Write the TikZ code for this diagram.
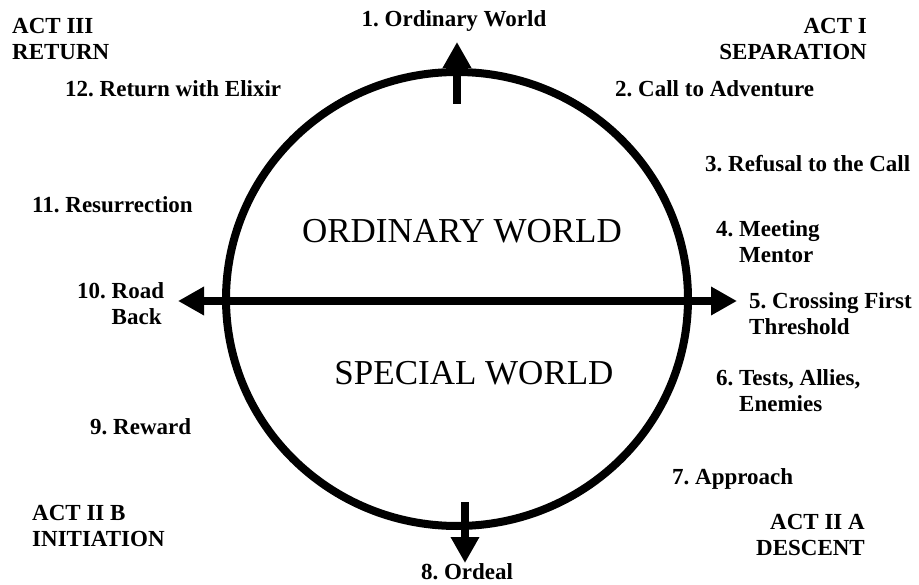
\documentclass[tikz,border=0pt]{standalone}
\usepackage{fontspec}
\setmainfont{Liberation Serif}[BoldFont={Liberation Serif Bold}]
\usetikzlibrary{arrows.meta,shapes.geometric}
\frenchspacing

% two-line labels, first baseline on the anchor
\newcommand{\hanglabel}[3]{\begin{tabular}[t]{@{}l@{\ }l@{}}#1 & #2\\ & #3\end{tabular}}
\newcommand{\twolines}[3]{\begin{tabular}[t]{@{}#1@{}}#2\\#3\end{tabular}}

\begin{document}
\begin{tikzpicture}[x=1pt, y=-1pt,
    >={Triangle[length=26pt,width=27pt]},
    stage/.style={inner sep=0pt, font=\bfseries\fontsize{23}{26}\selectfont},
    world/.style={inner sep=0pt, font=\fontsize{35}{40}\selectfont},
    bar/.style={line width=8pt}]
  \useasboundingbox (0,0) rectangle (919,585);

  \node (cycle) [draw, ellipse, line width=8pt, minimum width=462pt, minimum height=454pt] at (457,299) {};

  \node (ordinary) [world, anchor=base] at (462,243) {ORDINARY WORLD};
  \node (special) [world, anchor=base] at (474,385) {SPECIAL WORLD};

  \coordinate (north base) at (457,104);
  \coordinate (north tip) at (457,42);
  \coordinate (south base) at (465,502);
  \coordinate (south tip) at (465,563);
  \coordinate (west tip) at (178,301);
  \coordinate (east tip) at (737,301);

  \draw [bar, ->] (north base) -- (north tip);
  \draw [bar, ->] (south base) -- (south tip);
  \draw [bar, <->] (west tip) -- (east tip);

  \node (act1) [stage, anchor=base east] at (867,34) {\twolines{r}{ACT I}{SEPARATION}};
  \node (act2a) [stage, anchor=base east] at (865,529) {\twolines{r}{ACT II A}{DESCENT}};
  \node (act2b) [stage, anchor=base west] at (32,520) {\twolines{l}{ACT II B}{INITIATION}};
  \node (act3) [stage, anchor=base west] at (12,34) {\twolines{l}{ACT III}{RETURN}};

  \node (s1) [stage, anchor=base] at (454,27) {1. Ordinary World};
  \node (s2) [stage, anchor=base west] at (615,97) {2. Call to Adventure};
  \node (s3) [stage, anchor=base west] at (705,172) {3. Refusal to the Call};
  \node (s4) [stage, anchor=base west] at (716,237) {\hanglabel{4.}{Meeting}{Mentor}};
  \node (s5) [stage, anchor=base west] at (749,309) {\twolines{l}{5. Crossing First}{Threshold}};
  \node (s6) [stage, anchor=base west] at (716,386) {\hanglabel{6.}{Tests, Allies,}{Enemies}};
  \node (s7) [stage, anchor=base west] at (672,484) {7. Approach};
  \node (s8) [stage, anchor=base] at (467,579) {8. Ordeal};
  \node (s9) [stage, anchor=base west] at (90,435) {9. Reward};
  \node (s10) [stage, anchor=base west] at (77,299) {\hanglabel{10.}{Road}{Back}};
  \node (s11) [stage, anchor=base west] at (32,213) {11. Resurrection};
  \node (s12) [stage, anchor=base west] at (65,97) {12. Return with Elixir};
\end{tikzpicture}
\end{document}
